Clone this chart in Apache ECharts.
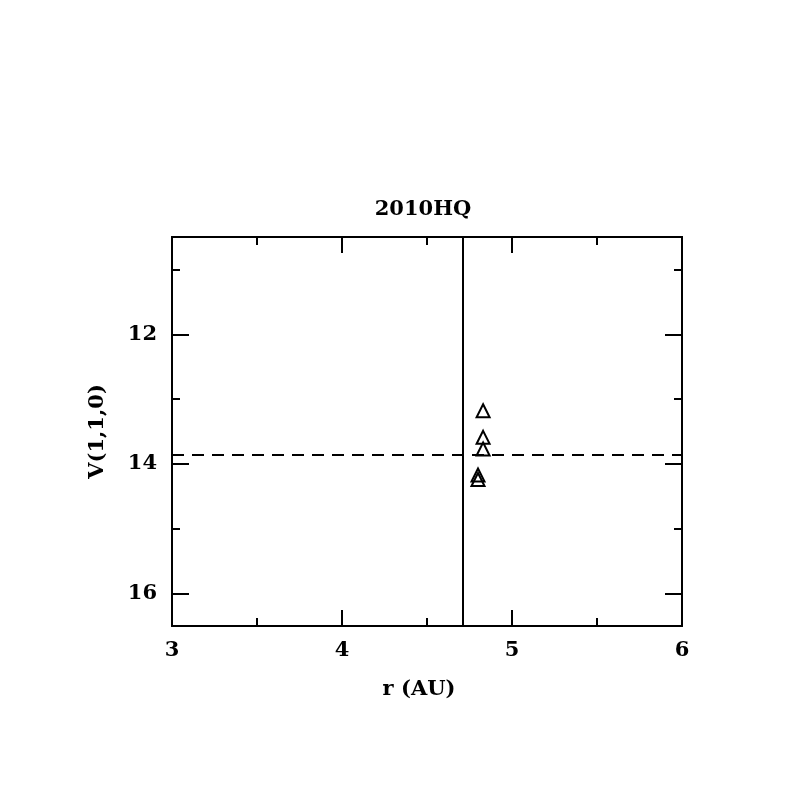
<!DOCTYPE html>
<html>
<head>
<meta charset="utf-8">
<script src="https://cdn.jsdelivr.net/npm/echarts@6/dist/echarts.min.js"></script>
<style>html,body{margin:0;padding:0;background:#fff}#c{width:797px;height:797px}</style>
</head>
<body>
<div id="c"></div>
<script>
const titleText = '2010HQ';
const rAU = [4.83, 4.83, 4.83, 4.80, 4.80];
const V110 = [13.18, 13.59, 13.77, 14.17, 14.24];
const rVertical = 4.706;
const vHorizontal = 13.86;
const yMajor = [12, 14, 16];
const yMinor = [11, 13, 15];
const xRange = [3, 6];
const yRange = [10.5, 16.5];

const font = 'DejaVu Serif';
const black = '#000';
const chart = echarts.init(document.getElementById('c'));

function yAx(pos, ticks, len, labels, name) {
  return {
    type: 'value', position: pos, min: yRange[0], max: yRange[1], inverse: true,
    name: name || '', nameLocation: 'middle', nameGap: 64,
    nameTextStyle: {fontFamily: font, fontSize: 21, fontWeight: 'bold', color: black},
    axisLine: {show: true, onZero: false, lineStyle: {color: black, width: 2}},
    axisTick: {show: true, inside: true, length: len, customValues: ticks, lineStyle: {color: black, width: 2}},
    axisLabel: {show: labels, customValues: yMajor, margin: 15, fontFamily: font, fontSize: 21, fontWeight: 'bold', color: black},
    splitLine: {show: false}
  };
}
function xAx(pos, labels, name) {
  return {
    type: 'value', position: pos, min: xRange[0], max: xRange[1], interval: 1,
    name: name || '', nameLocation: 'middle', nameGap: 53,
    nameTextStyle: {fontFamily: font, fontSize: 21, fontWeight: 'bold', color: black, padding: [0, 16, 0, 0]},
    axisLine: {show: true, onZero: false, lineStyle: {color: black, width: 2}},
    axisTick: {show: true, inside: true, length: 16, lineStyle: {color: black, width: 2}},
    minorTick: {show: true, splitNumber: 2, length: 8, lineStyle: {color: black, width: 2}},
    axisLabel: {show: labels, margin: 14, fontFamily: font, fontSize: 21, fontWeight: 'bold', color: black},
    splitLine: {show: false}, minorSplitLine: {show: false}
  };
}

chart.setOption({
  animation: false,
  backgroundColor: '#fff',
  title: {text: titleText, left: 418, top: 194, textAlign: 'center',
    textStyle: {fontFamily: font, fontSize: 21, fontWeight: 'bold', color: black}},
  grid: {left: 172, right: 115, top: 237, bottom: 171, containLabel: false},
  xAxis: [xAx('bottom', true, 'r (AU)'), xAx('top', false)],
  yAxis: [
    yAx('left', yMajor, 17, true, 'V(1,1,0)'),
    yAx('left', yMinor, 8, false),
    yAx('right', yMajor, 17, false),
    yAx('right', yMinor, 8, false)
  ],
  series: [{
    type: 'scatter', xAxisIndex: 0, yAxisIndex: 0,
    data: rAU.map((r, i) => [r, V110[i]]),
    symbol: 'triangle', symbolSize: 13,
    itemStyle: {color: 'rgba(0,0,0,0)', borderColor: black, borderWidth: 2, opacity: 1},
    markLine: {
      silent: true, symbol: 'none', label: {show: false},
      data: [
        {xAxis: rVertical, lineStyle: {color: black, width: 2, type: 'solid'}},
        {yAxis: vHorizontal, lineStyle: {color: black, width: 2, type: [12, 8]}}
      ]
    }
  }]
});
</script>
</body>
</html>
